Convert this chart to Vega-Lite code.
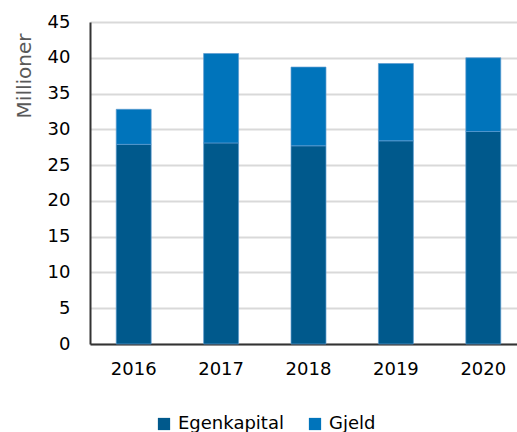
{
  "$schema": "https://vega.github.io/schema/vega-lite/v6.json",
  "autosize": "none",
  "width": 437,
  "height": 322,
  "padding": {"left": 90, "top": 22, "right": 0, "bottom": 88},
  "background": "white",
  "data": {
    "values": [
      {"year": "2016", "type": "Egenkapital", "value": 27.9, "ord": 1},
      {"year": "2016", "type": "Gjeld", "value": 4.9, "ord": 2},
      {"year": "2017", "type": "Egenkapital", "value": 28.1, "ord": 1},
      {"year": "2017", "type": "Gjeld", "value": 12.5, "ord": 2},
      {"year": "2018", "type": "Egenkapital", "value": 27.7, "ord": 1},
      {"year": "2018", "type": "Gjeld", "value": 11.0, "ord": 2},
      {"year": "2019", "type": "Egenkapital", "value": 28.4, "ord": 1},
      {"year": "2019", "type": "Gjeld", "value": 10.8, "ord": 2},
      {"year": "2020", "type": "Egenkapital", "value": 29.7, "ord": 1},
      {"year": "2020", "type": "Gjeld", "value": 10.3, "ord": 2}
    ]
  },
  "config": {
    "view": {"stroke": null},
    "font": "DejaVu Sans"
  },
  "mark": {"type": "bar", "stroke": "#5b9bd0", "strokeWidth": 0.7},
  "encoding": {
    "x": {
      "field": "year", "type": "nominal",
      "scale": {"paddingInner": 0.6, "paddingOuter": 0.3},
      "axis": {
        "title": null, "labelAngle": 0, "labelFontSize": 18, "labelColor": "#000",
        "labelPadding": 16, "ticks": false, "domainColor": "#333", "domainWidth": 2,
        "grid": false
      }
    },
    "y": {
      "field": "value", "type": "quantitative", "stack": "zero",
      "scale": {"domain": [0, 45]},
      "axis": {
        "values": [0,5,10,15,20,25,30,35,40,45],
        "title": "Millioner", "titleFontSize": 20, "titleColor": "#595959", "titleFontWeight": "normal",
        "titleY": 11, "titleX": -60, "titleAngle": -90, "titleAlign": "right", "titleBaseline": "alphabetic",
        "labelFontSize": 18, "labelColor": "#000", "labelPadding": 20, "ticks": false,
        "domainColor": "#333", "domainWidth": 2,
        "grid": true, "gridColor": "#d9d9d9", "gridWidth": 2
      }
    },
    "color": {
      "field": "type", "type": "nominal",
      "scale": {"domain": ["Egenkapital", "Gjeld"], "range": ["#00598c", "#0074bb"]},
      "legend": {
        "title": null, "orient": "none", "legendX": 65, "legendY": 393, "direction": "horizontal",
        "symbolType": "square", "symbolSize": 150, "symbolStrokeWidth": 0, "labelFontSize": 18, "labelColor": "#000",
        "columnPadding": 22, "labelOffset": 5
      }
    },
    "order": {"field": "ord", "type": "quantitative"}
  }
}
